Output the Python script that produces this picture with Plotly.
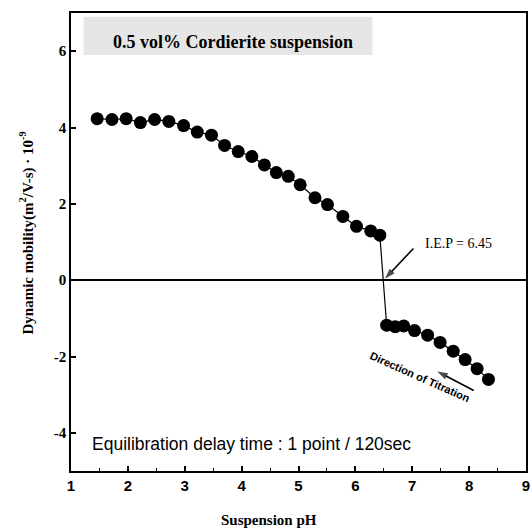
import plotly.graph_objects as go

# ---- data ----
ph_acid = [1.46, 1.72, 1.97, 2.22, 2.47, 2.72, 2.98, 3.22, 3.47, 3.70, 3.94,
           4.18, 4.40, 4.61, 4.82, 5.03, 5.29, 5.51, 5.78, 6.02, 6.27, 6.43]
mob_acid = [4.23, 4.21, 4.23, 4.13, 4.21, 4.16, 4.05, 3.88, 3.80, 3.53, 3.37,
            3.24, 3.02, 2.82, 2.72, 2.50, 2.16, 1.98, 1.67, 1.41, 1.29, 1.18]
ph_base = [6.55, 6.70, 6.85, 7.04, 7.27, 7.49, 7.72, 7.93, 8.14, 8.34]
mob_base = [-1.18, -1.22, -1.20, -1.32, -1.44, -1.63, -1.86, -2.08, -2.32, -2.60]

x_tick_vals = [1, 2, 3, 4, 5, 6, 7, 8, 9]
x_minor_vals = [1.5, 2.5, 3.5, 4.5, 5.5, 6.5, 7.5, 8.5]
y_tick_vals = [-4, -2, 0, 2, 4, 6]
y_tick_text = ["-4", "-2", "0", "2", "4", "6"]

# annotation arrows (tail -> head)
iep_arrow_x = [7.02, 6.52]
iep_arrow_y = [0.83, 0.04]
titration_arrow_x = [8.08, 7.44]
titration_arrow_y = [-2.89, -2.39]

SERIF = "Liberation Serif"
SANS = "Liberation Sans"

fig = go.Figure()
fig.add_trace(go.Scatter(
    x=ph_acid + ph_base, y=mob_acid + mob_base,
    mode="lines+markers",
    marker=dict(size=13, color="black"),
    line=dict(color="black", width=1.2),
    showlegend=False, hoverinfo="skip",
))

for ax_, ay_ in ((iep_arrow_x, iep_arrow_y), (titration_arrow_x, titration_arrow_y)):
    fig.add_trace(go.Scatter(
        x=ax_, y=ay_, mode="lines+markers",
        line=dict(color="black", width=1.6),
        marker=dict(symbol=["circle", "arrow"], size=[0, 11], color="black",
                    angleref="previous", line=dict(width=0)),
        showlegend=False, hoverinfo="skip",
    ))

# shaded box behind the heading
fig.add_shape(type="rect", xref="x", yref="y", x0=1.22, x1=6.3, y0=5.9, y1=6.9,
              fillcolor="#e6e6e6", line=dict(width=0), layer="below")

fig.add_annotation(x=3.85, y=6.25, xref="x", yref="y", showarrow=False,
                   text="0.5 vol% Cordierite suspension",
                   font=dict(family=SERIF, size=18, color="black", weight="bold"))

fig.add_annotation(x=7.81, y=0.97, xref="x", yref="y", showarrow=False,
                   text="I.E.P = 6.45", font=dict(family=SERIF, size=14, color="black"))

fig.add_annotation(x=7.14, y=-2.53, xref="x", yref="y", showarrow=False,
                   text="Direction of Titration", textangle=24,
                   font=dict(family=SANS, size=11, color="black", weight="bold"))

fig.add_annotation(x=1.34, y=-4.28, xref="x", yref="y", showarrow=False,
                   xanchor="left", text="Equilibration delay time : 1 point / 120sec",
                   font=dict(family=SANS, size=17.5, color="black"))

# axis titles as annotations
fig.add_annotation(xref="paper", yref="paper", x=-0.098, y=0.5195,
                   xanchor="center", yanchor="middle",
                   showarrow=False, textangle=-90,
                   text="Dynamic mobility(m<sup>2</sup>/V-s) · 10<sup>-9</sup>",
                   font=dict(family=SERIF, size=15, color="black", weight="bold"))
fig.add_annotation(xref="paper", yref="paper", x=0.435, y=-0.108,
                   xanchor="center", yanchor="middle",
                   showarrow=False, text="Suspension pH",
                   font=dict(family=SERIF, size=15, color="black", weight="bold"))

axis_common = dict(showline=True, mirror=True, linecolor="black", linewidth=1.5,
                   showgrid=False, ticks="inside", tickcolor="black",
                   ticklen=5, tickwidth=1.5, automargin=False)

fig.update_layout(
    width=531, height=531,
    margin=dict(l=71, r=5, t=13, b=60),
    paper_bgcolor="white", plot_bgcolor="white",
    xaxis=dict(range=[1, 9], tickmode="array", tickvals=x_tick_vals,
               zeroline=False,
               minor=dict(tickmode="array", tickvals=x_minor_vals, ticks="inside",
                          ticklen=3, tickwidth=1, tickcolor="black"),
               tickfont=dict(family=SANS, size=15, color="black", weight="bold"),
               **axis_common),
    yaxis=dict(range=[-5, 7], tickmode="array", tickvals=y_tick_vals,
               ticktext=y_tick_text,
               zeroline=True, zerolinecolor="black", zerolinewidth=1.5,
               tickfont=dict(family=SERIF, size=15, color="black", weight="bold"),
               **axis_common),
)

fig.write_html("out.html", config={"displayModeBar": False},
               post_script="document.body.style.margin='0';document.body.style.overflow='hidden';")
